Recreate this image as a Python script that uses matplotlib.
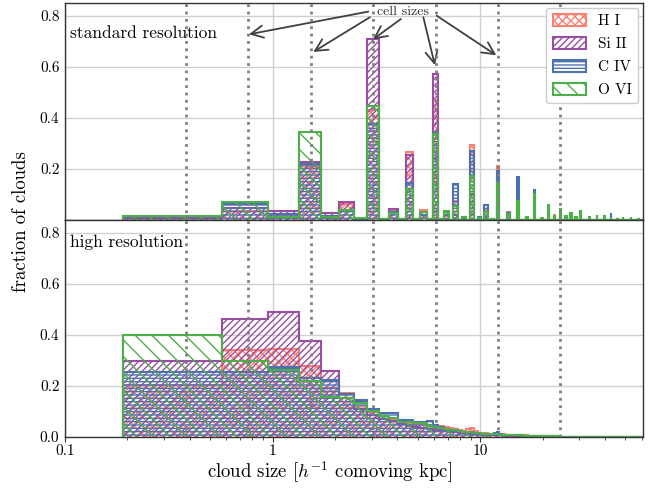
import numpy as np
import matplotlib
matplotlib.use("Agg")
import matplotlib.pyplot as plt

plt.rcParams['font.family'] = ['cmr10']
plt.rcParams['mathtext.fontset'] = 'cm'
plt.rcParams['axes.formatter.use_mathtext'] = True
plt.rcParams['hatch.linewidth'] = 1.0

# smallest cell size [h^-1 comoving kpc]
CELL = 0.3815
cell_sizes = [0.3815, 0.763, 1.526, 3.052, 6.104, 12.207, 24.414]

ions = ['H I', 'Si II', 'C IV', 'O VI']
colors = ['#fa8072', '#984ea3', '#4c72b0', '#4daf4a']
hatches = ['xxxx', '/////', '-----', '\\\\']

# standard resolution: cloud sizes in number of cells, fraction of clouds per ion
std_ncell = [1, 2, 3, 4, 5, 6, 7, 8, 9, 10, 11, 12, 13, 14, 15, 16, 17, 18, 20, 22,
             24, 26, 28, 30, 32, 36, 40, 44, 48, 52, 56, 60, 64, 68, 72, 76, 80, 88,
             96, 104, 112, 120, 128, 140, 152]
std_hi = [0.005, 0.035, 0.015, 0.210, 0.010, 0.060, 0.004, 0.430, 0.003, 0.035, 0.005,
          0.264, 0.002, 0.037, 0.003, 0.470, 0.003, 0.015, 0.074, 0.005, 0.292, 0.003,
          0.040, 0.002, 0.210, 0.030, 0.020, 0.003, 0.015, 0.002, 0.010, 0.020, 0.010,
          0.003, 0.005, 0.002, 0.004, 0.001, 0.003, 0.002, 0.003, 0.003, 0.001, 0.000,
          0.000]
std_siii = [0.010, 0.045, 0.035, 0.225, 0.027, 0.069, 0.004, 0.710, 0.003, 0.043, 0.002,
            0.255, 0.001, 0.020, 0.002, 0.572, 0.002, 0.020, 0.020, 0.003, 0.100, 0.002,
            0.010, 0.001, 0.050, 0.005, 0.005, 0.001, 0.003, 0.001, 0.002, 0.001, 0.002,
            0.001, 0.001, 0.000, 0.001, 0.000, 0.001, 0.000, 0.001, 0.000, 0.004, 0.000,
            0.000]
std_civ = [0.014, 0.060, 0.022, 0.220, 0.015, 0.040, 0.004, 0.375, 0.002, 0.030, 0.002,
           0.146, 0.002, 0.020, 0.003, 0.340, 0.002, 0.030, 0.139, 0.012, 0.268, 0.010,
           0.057, 0.004, 0.193, 0.025, 0.167, 0.008, 0.116, 0.004, 0.030, 0.010, 0.020,
           0.008, 0.012, 0.004, 0.010, 0.004, 0.008, 0.005, 0.026, 0.002, 0.004, 0.003,
           0.004]
std_ovi = [0.016, 0.070, 0.012, 0.346, 0.010, 0.039, 0.008, 0.447, 0.003, 0.028, 0.002,
           0.122, 0.002, 0.030, 0.003, 0.336, 0.003, 0.036, 0.054, 0.010, 0.171, 0.008,
           0.030, 0.005, 0.149, 0.022, 0.074, 0.010, 0.100, 0.006, 0.058, 0.015, 0.044,
           0.016, 0.028, 0.010, 0.034, 0.010, 0.019, 0.015, 0.010, 0.004, 0.010, 0.010,
           0.005]

# high resolution: fraction of clouds for sizes of 1, 2, 3, ... cells
hr_hi = [0.203, 0.339, 0.343, 0.278, 0.190, 0.170, 0.120, 0.095, 0.080, 0.070,
         0.058, 0.050, 0.050, 0.045, 0.044, 0.046, 0.042, 0.040, 0.034, 0.030,
         0.026, 0.024, 0.030, 0.033, 0.022, 0.016, 0.014, 0.013, 0.012, 0.011,
         0.010, 0.010, 0.009, 0.009, 0.008, 0.008, 0.007, 0.007, 0.006, 0.006,
         0.006, 0.005, 0.005, 0.005, 0.004, 0.004, 0.004, 0.004, 0.004, 0.003,
         0.003, 0.003, 0.003, 0.003, 0.003, 0.002, 0.002, 0.002, 0.002, 0.002,
         0.002, 0.002, 0.001, 0.001]
hr_siii = [0.296, 0.462, 0.490, 0.375, 0.258, 0.150, 0.110, 0.085, 0.070, 0.060,
           0.050, 0.042, 0.040, 0.036, 0.032, 0.028, 0.025, 0.022, 0.020, 0.018,
           0.016, 0.014, 0.012, 0.011, 0.010, 0.009, 0.008, 0.007, 0.006, 0.006,
           0.005, 0.005, 0.005, 0.004, 0.004, 0.004, 0.003, 0.003, 0.003, 0.003,
           0.003, 0.002, 0.002, 0.002, 0.002, 0.002, 0.002, 0.001, 0.001, 0.001,
           0.001, 0.001, 0.001, 0.001, 0.001, 0.001, 0.001, 0.001, 0.000, 0.000,
           0.000, 0.000, 0.000, 0.000]
hr_civ = [0.254, 0.255, 0.274, 0.231, 0.222, 0.168, 0.142, 0.108, 0.093, 0.093,
          0.066, 0.066, 0.058, 0.058, 0.062, 0.045, 0.038, 0.032, 0.028, 0.026,
          0.022, 0.020, 0.018, 0.016, 0.014, 0.013, 0.012, 0.011, 0.010, 0.012,
          0.014, 0.018, 0.009, 0.008, 0.008, 0.007, 0.007, 0.006, 0.006, 0.005,
          0.005, 0.005, 0.004, 0.004, 0.004, 0.004, 0.003, 0.003, 0.003, 0.003,
          0.003, 0.002, 0.002, 0.002, 0.002, 0.002, 0.002, 0.001, 0.001, 0.001,
          0.001, 0.001, 0.001, 0.001]
hr_ovi = [0.400, 0.296, 0.261, 0.218, 0.155, 0.151, 0.131, 0.099, 0.082, 0.075,
          0.058, 0.056, 0.054, 0.052, 0.043, 0.040, 0.035, 0.030, 0.028, 0.025,
          0.022, 0.020, 0.018, 0.017, 0.015, 0.013, 0.012, 0.011, 0.010, 0.010,
          0.009, 0.009, 0.008, 0.008, 0.007, 0.007, 0.006, 0.006, 0.006, 0.005,
          0.005, 0.005, 0.004, 0.004, 0.004, 0.004, 0.003, 0.003, 0.003, 0.003,
          0.003, 0.003, 0.002, 0.002, 0.002, 0.002, 0.002, 0.002, 0.001, 0.001,
          0.001, 0.001, 0.001, 0.001]

# arrows from the "cell sizes" label to the cell size lines
arrow_tip_x = [0.77, 1.572, 3.047, 6.06, 11.98]
arrow_tip_y = [0.727, 0.658, 0.707, 0.606, 0.645]
arrow_start_x = [2.895, 2.947, 4.156, 5.33, 6.18]
arrow_start_y = [0.816, 0.794, 0.787, 0.794, 0.800]

# bins centred on multiples of the smallest cell
edges = (np.arange(0, 170) + 0.5) * CELL

std_fracs = [std_hi, std_siii, std_civ, std_ovi]
hr_fracs = [hr_hi, hr_siii, hr_civ, hr_ovi]
std_size = np.array(std_ncell) * CELL
hr_size = np.arange(1, len(hr_hi) + 1) * CELL

fig = plt.figure(figsize=(6.52, 4.88), dpi=100)
ax_top = fig.add_axes([0.0997, 0.5496, 0.8865, 0.4444])
ax_bot = fig.add_axes([0.0997, 0.1051, 0.8865, 0.4445])

for ax in (ax_top, ax_bot):
    ax.set_xscale('log')
    ax.set_xlim(0.1, 61)
    ax.set_ylim(0, 0.85)
    ax.set_axisbelow(True)
    ax.grid(True, which='major', color='#d0d0d0', lw=1.0)
    for s in ax.spines.values():
        s.set_color('#333333')
        s.set_linewidth(1.0)
    ax.tick_params(axis='y', length=0, labelsize=11, pad=4)
    for cs in cell_sizes:
        ax.axvline(cs, color='#808080', ls=':', lw=2.0, zorder=4)

for i in range(4):
    ax_top.hist(std_size, bins=edges, weights=std_fracs[i], histtype='step',
                hatch=hatches[i], color=colors[i], lw=1.5, label=ions[i])
    ax_bot.hist(hr_size, bins=edges, weights=hr_fracs[i], histtype='step',
                hatch=hatches[i], color=colors[i], lw=1.5, label=ions[i])

ax_top.set_yticks([0.2, 0.4, 0.6, 0.8])
ax_top.set_yticklabels(['0.2', '0.4', '0.6', '0.8'])
ax_bot.set_yticks([0.0, 0.2, 0.4, 0.6, 0.8])
ax_bot.set_yticklabels(['0.0', '0.2', '0.4', '0.6', '0.8'])

ax_top.set_xticks([0.1, 1, 10])
ax_top.tick_params(axis='x', which='both', length=0, labelbottom=False)
ax_bot.set_xticks([0.1, 1, 10])
ax_bot.set_xticklabels(['0.1', '1', '10'])
ax_bot.tick_params(axis='x', which='major', length=3.5, width=0.8, color='#333333',
                   labelsize=11, pad=2)
ax_bot.tick_params(axis='x', which='minor', length=2, width=0.6, color='#333333')

ax_top.text(0.008, 0.861, 'standard resolution', transform=ax_top.transAxes,
            fontsize=12.5, va='center', ha='left')
ax_bot.text(0.008, 0.898, 'high resolution', transform=ax_bot.transAxes,
            fontsize=12.5, va='center', ha='left')

ax_top.text(4.27, 0.813, 'cell sizes', fontsize=10, ha='center', va='center', color='#333333')
for i in range(len(arrow_tip_x)):
    ax_top.annotate('', xy=(arrow_tip_x[i], arrow_tip_y[i]),
                    xytext=(arrow_start_x[i], arrow_start_y[i]),
                    arrowprops=dict(arrowstyle='->', color='#404040', lw=1.3,
                                    mutation_scale=22, shrinkA=0, shrinkB=0))

ax_top.legend(loc='upper right', fontsize=11, frameon=True, framealpha=1,
              edgecolor='#cccccc', fancybox=True, borderaxespad=0.3,
              handlelength=2.2, handleheight=0.9, labelspacing=0.55)

fig.text(0.506, 0.032, r'cloud size [$h^{-1}$ comoving kpc]', fontsize=13.5,
         ha='center', va='center')
fig.text(0.032, 0.545, 'fraction of clouds', fontsize=13.5, rotation=90,
         ha='center', va='center')

fig.savefig('out.png', dpi=100)
